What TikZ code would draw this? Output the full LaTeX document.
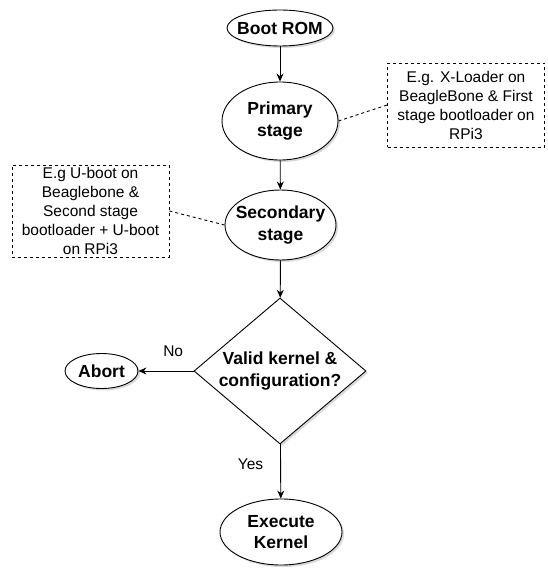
\documentclass[tikz,border=0pt]{standalone}
\usepackage{fontspec}
\setmainfont{Liberation Sans}
\usetikzlibrary{shapes.geometric,arrows.meta,shadows}

\begin{document}
\begin{tikzpicture}[x=1pt,y=-1pt,line width=0.9pt,
	font=\fontsize{15.5}{19}\selectfont,
	stage/.style={ellipse,draw,fill=white,align=center,inner xsep=-6pt,inner ysep=0pt,
		font=\fontsize{17.5}{21.5}\selectfont\bfseries,
		drop shadow={shadow xshift=2pt,shadow yshift=-2pt,opacity=0.3}},
	note/.style={draw,dash pattern=on 3pt off 3pt,align=center,inner sep=0pt,minimum width=157},
	arr/.style={-{Stealth[length=8pt,width=7pt]}},
	lbl/.style={inner sep=0pt}]
	\useasboundingbox (0,0) rectangle (547,569);

	\node[stage,minimum width=106,minimum height=36] at (280,28)(rom){Boot ROM};
	\node[stage,minimum width=116,minimum height=78] at (280,121)(prim){Primary\\stage};
	\node[stage,minimum width=111,minimum height=70] at (280.5,225)(sec){Secondary\\stage};
	\node[stage,diamond,shape aspect=1.18,minimum width=172,minimum height=146,inner xsep=0pt] at (280,371)(valid){Valid kernel \&\\configuration?};
	\node[stage,minimum width=73,minimum height=35] at (101.5,371)(abort){Abort};
	\node[stage,minimum width=122,minimum height=66] at (281,532)(exec){Execute\\Kernel};

	% side notes
	\node[note,minimum height=84] at (466,105)(n1){E.g. X-Loader on\\BeagleBone \& First\\stage bootloader on\\RPi3};
	\node[note,minimum height=92] at (90.5,211)(n2){E.g U-boot on\\Beaglebone \&\\Second stage\\bootloader + U-boot\\on RPi3};

	\path[arr] (rom)edge(prim)(prim)edge(sec)(sec)edge(valid)
		(valid)edge node[lbl,left=17pt,pos=0.375]{Yes}(exec)
		(valid)edge node[lbl,above=14pt,pos=0.37]{No}(abort);
	\path[dash pattern=on 3pt off 3pt] (prim.east)edge(n1.west)(n2.east)edge(sec.west);
\end{tikzpicture}
\end{document}
